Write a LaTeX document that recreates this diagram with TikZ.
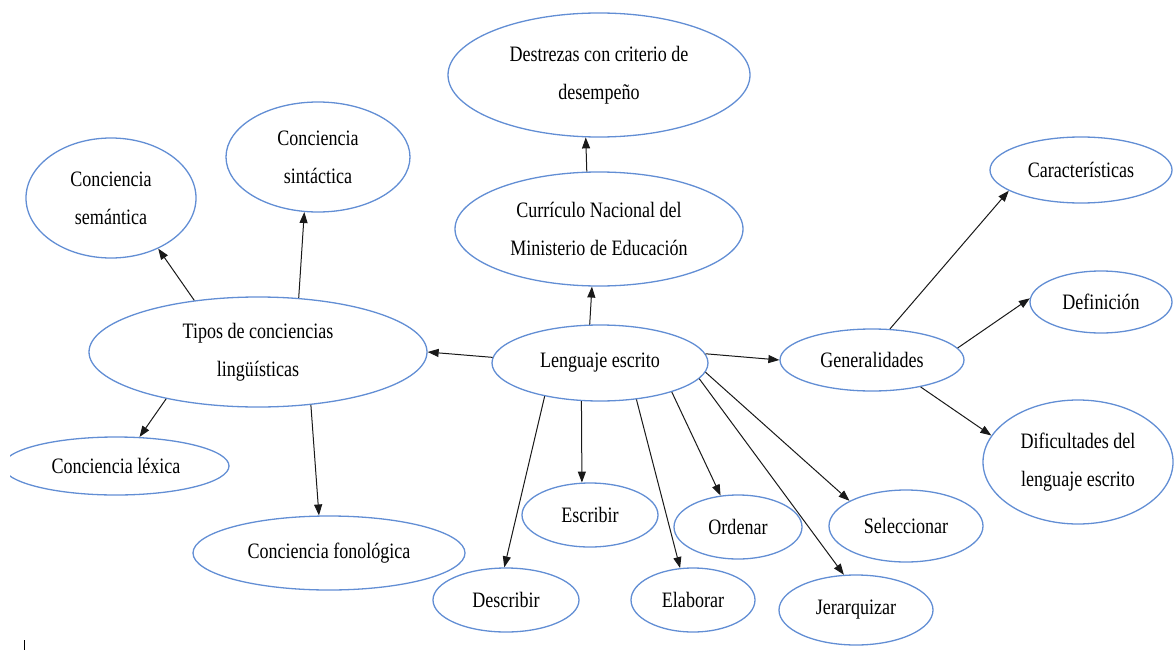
\documentclass[tikz,border=0pt]{standalone}
\usepackage{fontspec}
\setmainfont{Liberation Serif}[FakeStretch=0.82]
\usetikzlibrary{shapes.geometric,arrows.meta}
\definecolor{ellblue}{RGB}{98,142,212}
\tikzset{
  bub/.style={ellipse, draw=ellblue, line width=1.3pt, inner sep=0pt, align=center,
    font=\fontsize{22}{38}\selectfont, text=black},
  con/.style={draw=black!90, line width=1pt, -{Triangle[length=11pt,width=8pt]}}
}
\newcommand{\bubble}[6]{\node[bub, minimum width=#4pt, minimum height=#5pt] (#1) at (#2,#3) {#6};}
\begin{document}
\begin{tikzpicture}[x=1pt,y=-1pt]
\useasboundingbox (0,0) rectangle (1174,650);
% nodes
\bubble{destrezas}{599}{75}{302}{124}{Destrezas con criterio de\\desempeño}
\bubble{curriculo}{599}{229}{288}{114}{Currículo Nacional del\\Ministerio de Educación}
\bubble{semantica}{111}{198}{170}{120}{Conciencia\\semántica}
\bubble{sintactica}{318}{157}{184}{110}{Conciencia\\sintáctica}
\bubble{tipos}{258}{352}{338}{110}{Tipos de conciencias\\lingüísticas}
\bubble{lenguaje}{600}{363}{216}{76}{Lenguaje escrito}
\bubble{general}{872}{360}{184}{62}{Generalidades}
\bubble{caract}{1081}{170}{182}{66}{Características}
\bubble{defin}{1101}{302}{142}{62}{Definición}
\bubble{dific}{1078}{462}{190}{124}{Dificultades del\\lenguaje escrito}
\begin{scope}
\clip (10,420) rectangle (300,520);
\bubble{lexica}{116}{466}{226}{58}{Conciencia léxica}
\end{scope}
\bubble{fonol}{329}{553}{272}{74}{Conciencia fonológica}
\bubble{describir}{506}{600}{146}{64}{Describir}
\bubble{escribir}{590}{515}{136}{64}{Escribir}
\bubble{elaborar}{693}{600}{124}{64}{Elaborar}
\bubble{ordenar}{738}{527}{128}{64}{Ordenar}
\bubble{selecc}{906}{526}{154}{72}{Seleccionar}
\bubble{jerarq}{856}{610}{154}{70}{Jerarquizar}
% connectors
\draw[con] (lenguaje.105) -- (curriculo.263);
\draw[con] (curriculo.102.8) -- (destrezas.258);
\draw[con] (lenguaje.177) -- (tipos.east);
\draw[con] (lenguaje.5) -- (general.west);
\draw[con] (tipos.141.5) -- (semantica.313);
\draw[con] (tipos.53) -- (sintactica.256.7);
\draw[con] (tipos.207) -- (lexica.51.6);
\draw[con] (tipos.315) -- (fonol.105.8);
\draw[con] (lenguaje.211.7) -- (describir.93.6);
\draw[con] (lenguaje.244) -- (escribir.104);
\draw[con] (lenguaje.315) -- (elaborar.112);
\draw[con] (lenguaje.338.5) -- (ordenar.119);
\draw[con] (lenguaje.351) -- (jerarq.109.4);
\draw[con] (lenguaje.355) -- (selecc.156.5);
\draw[con] (general.60) -- (caract.196);
\draw[con] (general.8) -- (defin.177);
\draw[con] (general.331) -- (dific.163);
% stray tick at lower left
\draw[black, line width=0.8pt] (24,640) -- (24,650);
\end{tikzpicture}
\end{document}
